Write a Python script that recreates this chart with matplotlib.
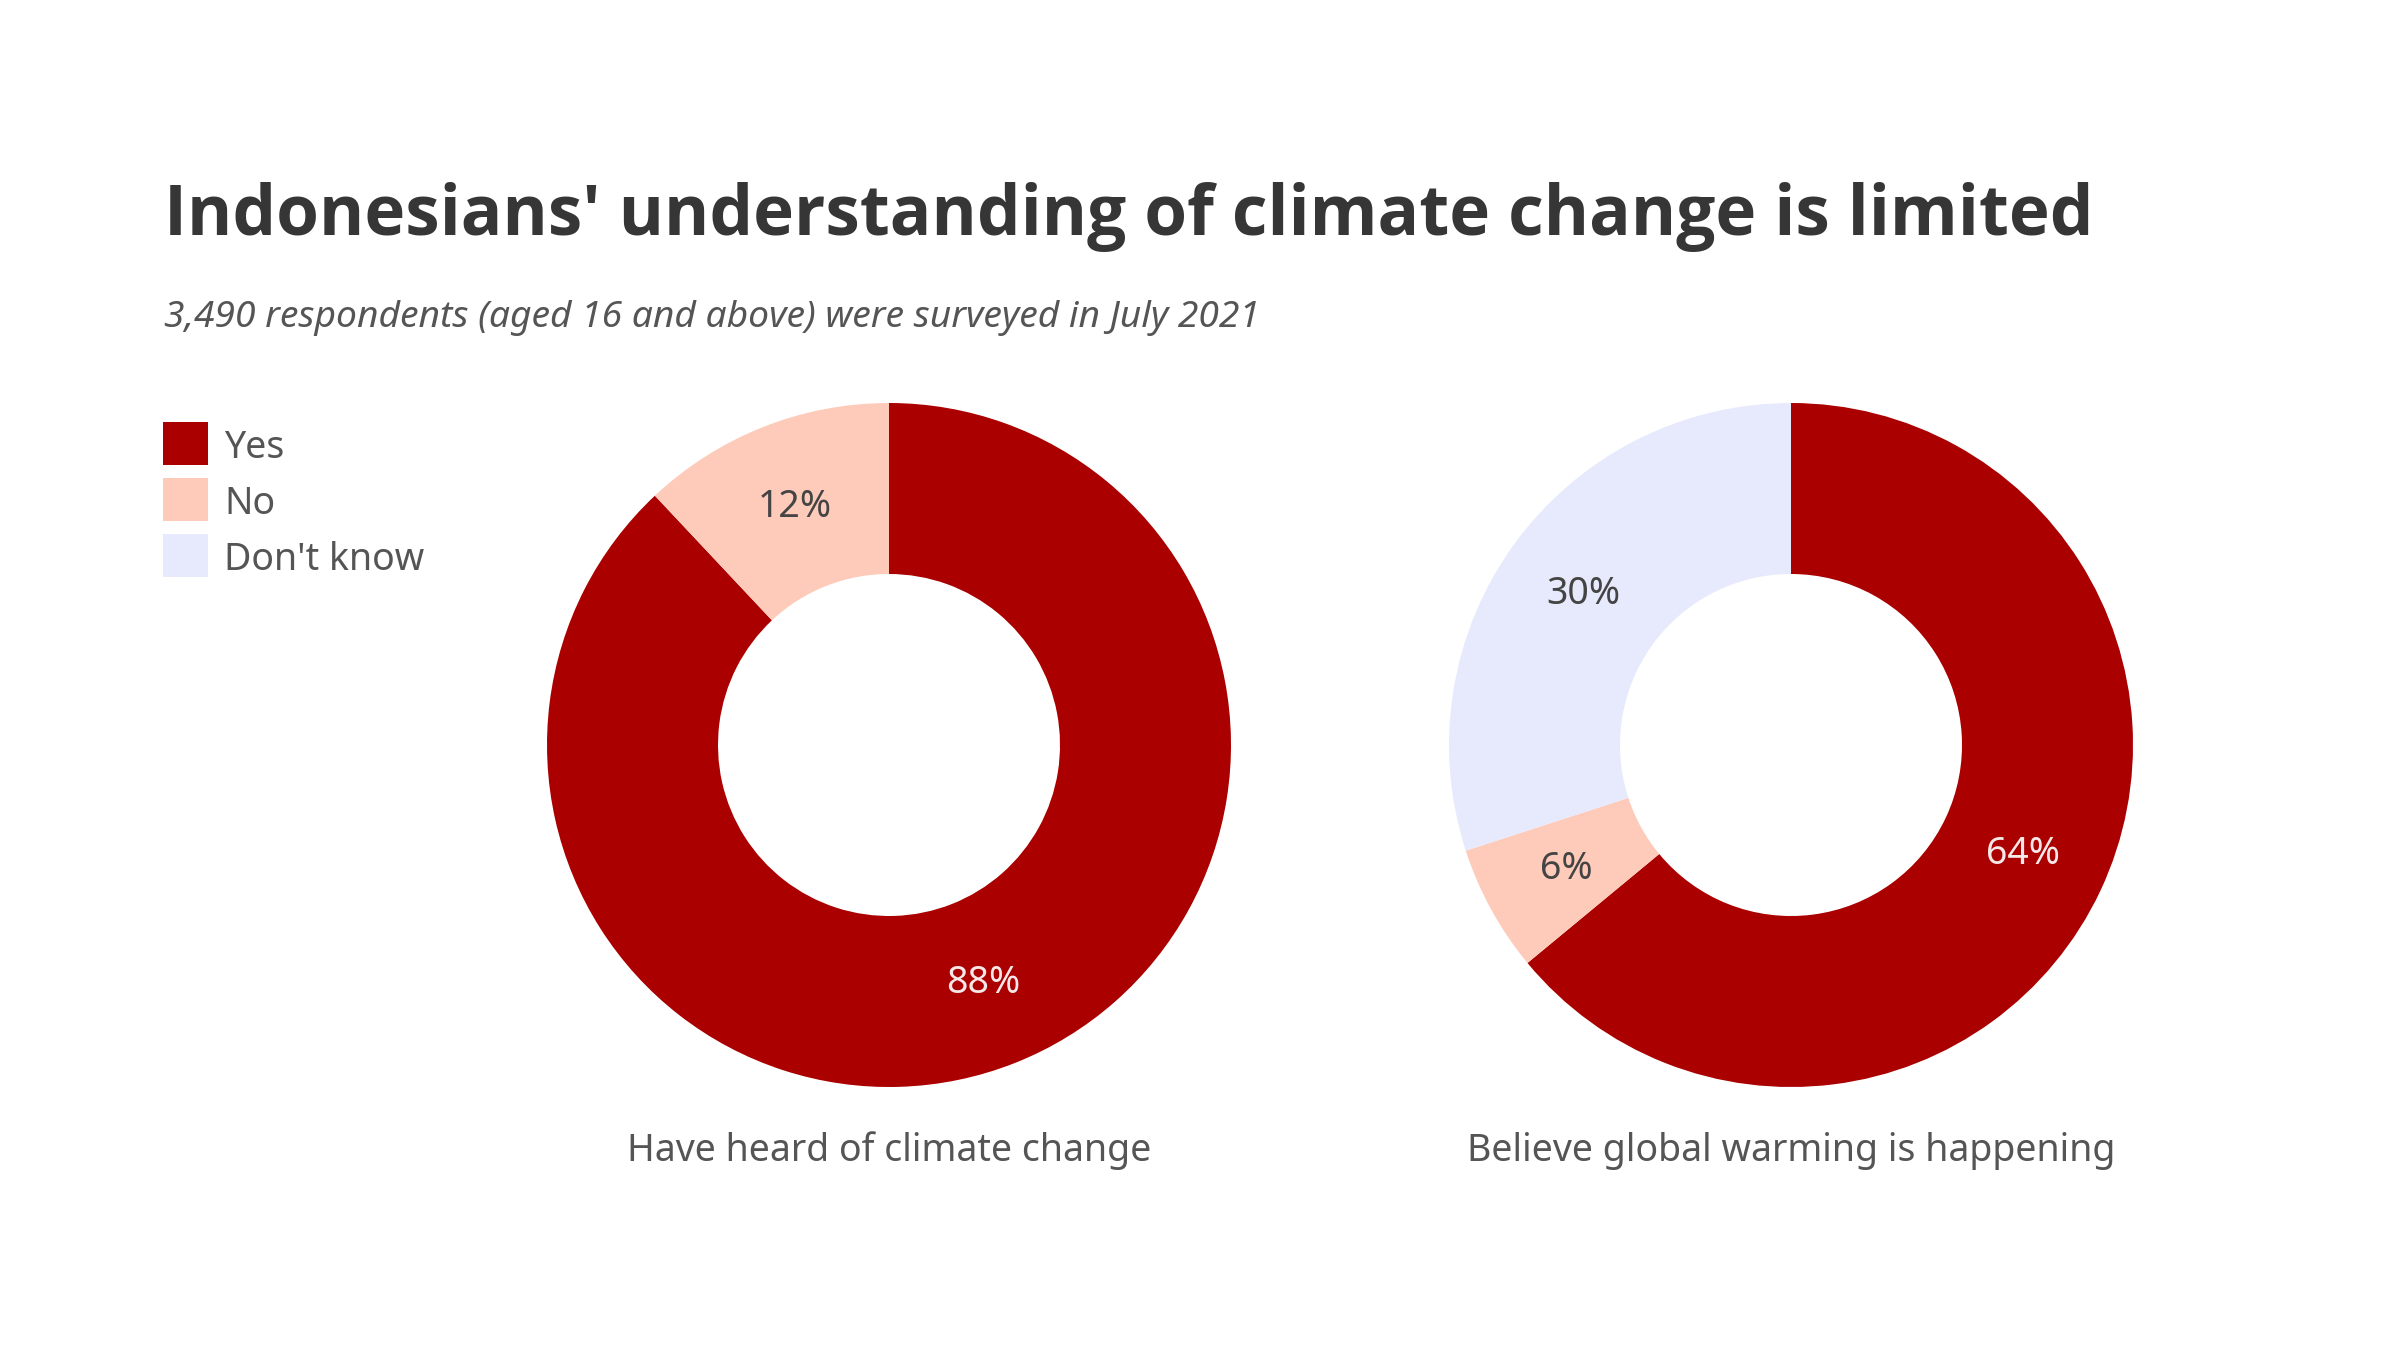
import matplotlib
matplotlib.use("Agg")
import matplotlib.pyplot as plt
from matplotlib.patches import Rectangle

plt.rcParams['font.family'] = ['Noto Sans', 'DejaVu Sans']

categories = ["Yes", "No", "Don't know"]
colors = ["#aa0000", "#fecbba", "#e7eafc"]
label_colors = ["#f6e8e8", "#444444", "#444444"]

heard_values = [88, 12, 0]
believe_values = [64, 6, 30]
charts = [("Have heard of climate change", heard_values),
          ("Believe global warming is happening", believe_values)]

title = "Indonesians' understanding of climate change is limited"
subtitle = "3,490 respondents (aged 16 and above) were surveyed in July 2021"

W, H = 2400, 1350
fig = plt.figure(figsize=(12, 6.75), dpi=200)
fig.patch.set_facecolor("white")

fig.text(164 / W, 1 - 235 / H, title, fontsize=24.9, fontweight="bold",
         family=["Open Sans", "Noto Sans", "DejaVu Sans"],
         color="#363636", va="baseline", ha="left")
fig.text(164 / W, 1 - 327 / H, subtitle, fontsize=13.4, style="italic",
         color="#555555", va="baseline", ha="left")

# legend
for i, (cat, col) in enumerate(zip(categories, colors)):
    top = 422 + i * 56
    fig.patches.append(Rectangle((163 / W, 1 - (top + 43) / H), 45 / W, 43 / H,
                                 transform=fig.transFigure, facecolor=col,
                                 edgecolor="none"))
    fig.text(224 / W, 1 - (top + 21.5) / H, cat, fontsize=13.5, color="#555555",
             va="center_baseline", ha="left")

centers = [(889, 745), (1791, 745)]
R = 342
for (cx, cy), (caption, vals) in zip(centers, charts):
    ax = fig.add_axes([(cx - R) / W, 1 - (cy + R) / H, 2 * R / W, 2 * R / H])
    wedges, texts, autotexts = ax.pie(
        vals, colors=colors, startangle=90, counterclock=False,
        radius=1.0, wedgeprops=dict(width=0.5, edgecolor="none"),
        autopct=lambda p: f"{p:.0f}%" if p > 0 else "", pctdistance=0.75,
        textprops=dict(fontsize=13.5))
    for t, lc in zip(autotexts, label_colors):
        t.set_color(lc)
    ax.set_xlim(-1, 1)
    ax.set_ylim(-1, 1)
    ax.set_aspect("equal")
    ax.axis("off")
    fig.text(cx / W, 1 - 1161 / H, caption, fontsize=13.5, color="#555555",
             ha="center", va="baseline")

fig.savefig("out.png", dpi=200, facecolor="white")
